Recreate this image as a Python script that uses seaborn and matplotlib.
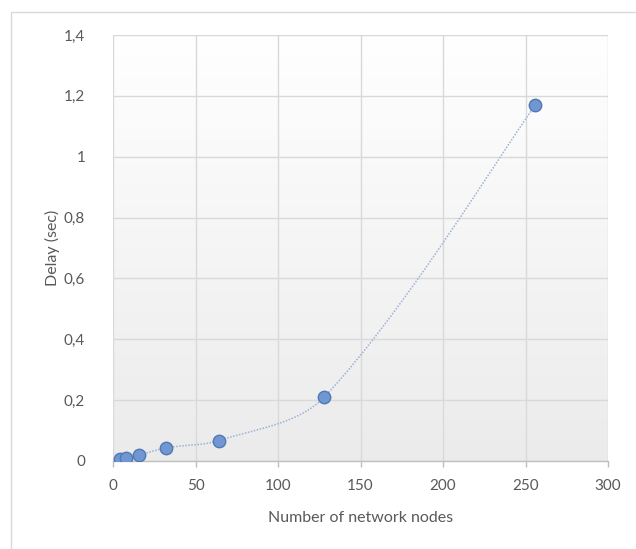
import numpy as np
import pandas as pd
import matplotlib
matplotlib.use("Agg")
import matplotlib.pyplot as plt
from matplotlib.patches import Rectangle
import seaborn as sns

# Measured delay against network size
nodes = [4, 8, 16, 32, 64, 128, 256]
delay = [0.005, 0.01, 0.02, 0.043, 0.067, 0.21, 1.17]

x_ticks = [0, 50, 100, 150, 200, 250, 300]
y_ticks = [0, 0.2, 0.4, 0.6, 0.8, 1.0, 1.2, 1.4]
y_tick_labels = ["0", "0,2", "0,4", "0,6", "0,8", "1", "1,2", "1,4"]

x_title = "Number of network nodes"
y_title = "Delay (sec)"

sns.set_theme(style="white")
plt.rcParams["font.family"] = ["Lato", "DejaVu Sans"]

TEXT = "#595959"
GRID = "#d9d9d9"

# plot area size in pixels, used so the smoothing follows screen distances
AX_W, AX_H = 495, 426


def smooth_curve(xs, ys, sx, sy, steps=40):
    """Chord-weighted Bezier spline through the points (a smoothed line)."""
    px = np.asarray(xs, float) * sx
    py = np.asarray(ys, float) * sy
    n = len(px)
    seg = np.hypot(np.diff(px), np.diff(py))
    out_x, out_y = [], []
    t = np.linspace(0, 1, steps)

    def handle(i, side):
        i0, i2 = max(i - 1, 0), min(i + 1, n - 1)
        tx, ty = px[i2] - px[i0], py[i2] - py[i0]
        d_prev = seg[i - 1] if i > 0 else 0.0
        d_next = seg[i] if i < n - 1 else 0.0
        tot = d_prev + d_next
        w = (d_next if side > 0 else d_prev) / tot / 3 if tot else 0
        if i == 0 or i == n - 1:
            w = 1 / 6
        return tx * w, ty * w

    for i in range(n - 1):
        hx1, hy1 = handle(i, +1)
        hx2, hy2 = handle(i + 1, -1)
        c1x, c1y = px[i] + hx1, py[i] + hy1
        c2x, c2y = px[i + 1] - hx2, py[i + 1] - hy2
        b0 = (1 - t) ** 3
        b1 = 3 * (1 - t) ** 2 * t
        b2 = 3 * (1 - t) * t ** 2
        b3 = t ** 3
        out_x.extend(b0 * px[i] + b1 * c1x + b2 * c2x + b3 * px[i + 1])
        out_y.extend(b0 * py[i] + b1 * c1y + b2 * c2y + b3 * py[i + 1])
    return np.array(out_x) / sx, np.array(out_y) / sy


df = pd.DataFrame({"nodes": nodes, "delay": delay})
cx, cy = smooth_curve(nodes, delay,
                      AX_W / (x_ticks[-1] - x_ticks[0]),
                      AX_H / (y_ticks[-1] - y_ticks[0]))
curve = pd.DataFrame({"nodes": cx, "delay": cy})

fig = plt.figure(figsize=(6.36, 5.49), dpi=100)
ax = fig.add_axes([113 / 636, 1 - 461 / 549, AX_W / 636, AX_H / 549])

# chart frame
fig.patches.append(Rectangle((11 / 636, -0.1), 1.2, 1.1 - 12 / 549,
                             transform=fig.transFigure, fill=False,
                             edgecolor=GRID, linewidth=1.0, zorder=0))

# plot-area gradient: white at the top, light grey at the bottom
grad = np.linspace(0, 1, 256).reshape(-1, 1)
ax.imshow(grad, extent=[0, 1, 0, 1], transform=ax.transAxes, aspect="auto",
          cmap=matplotlib.colors.LinearSegmentedColormap.from_list(
              "bg", ["#ffffff", "#ebebeb"]),
          origin="upper", zorder=0)

sns.lineplot(data=curve, x="nodes", y="delay", sort=False, estimator=None,
             color="#9db2d6", linewidth=1.1, linestyle=(0, (1, 1)), ax=ax,
             zorder=3)
sns.scatterplot(data=df, x="nodes", y="delay", s=80, color="#7097d1",
                edgecolor="#4f78b5", linewidth=1.0, ax=ax, zorder=4)

ax.set_xlim(x_ticks[0], x_ticks[-1])
ax.set_ylim(y_ticks[0], y_ticks[-1])
ax.set_xticks(x_ticks)
ax.set_xticklabels([str(v) for v in x_ticks])
ax.set_yticks(y_ticks)
ax.set_yticklabels(y_tick_labels)

ax.grid(True, color=GRID, linewidth=1.0, zorder=1)
ax.set_axisbelow(True)
for side in ["top", "right", "left"]:
    ax.spines[side].set_visible(False)
ax.spines["bottom"].set_color("#bfbfbf")
ax.spines["bottom"].set_linewidth(1.0)

ax.tick_params(axis="x", which="major", bottom=True, direction="out",
               length=4, width=1.0, color="#bfbfbf", pad=9,
               labelsize=11, labelcolor=TEXT)
ax.tick_params(axis="y", left=False, pad=14, labelsize=11, labelcolor=TEXT)

ax.set_xlabel(x_title, fontsize=11.5, color=TEXT)
ax.set_ylabel(y_title, fontsize=11.5, color=TEXT)
ax.xaxis.set_label_coords(0.5, (461 - 511) / AX_H)
ax.yaxis.set_label_coords((60 - 113) / AX_W, 0.5)

fig.savefig("out.png", dpi=100)
